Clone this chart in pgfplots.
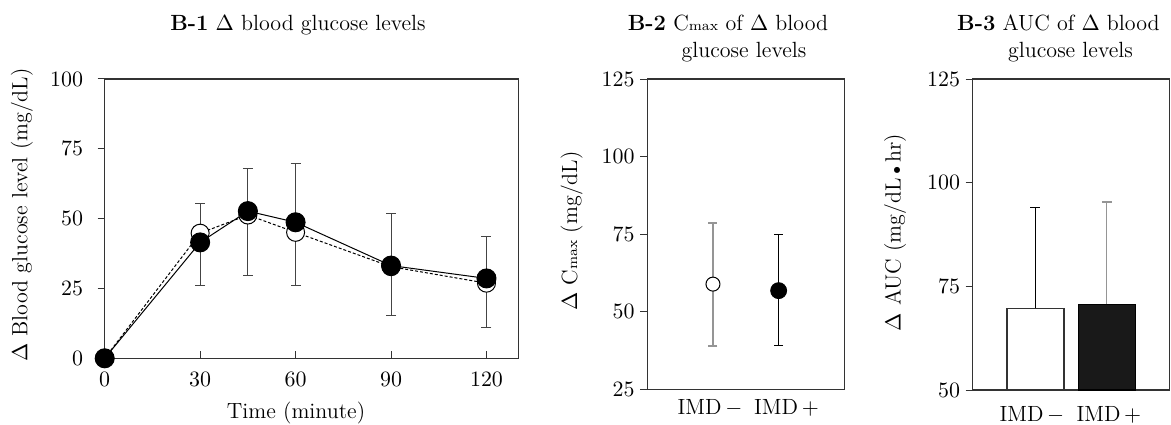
\documentclass[border=0pt]{standalone}
\usepackage{pgfplots}
\pgfplotsset{compat=1.18}
\definecolor{axc}{HTML}{333333}
\definecolor{errc}{HTML}{444444}
\definecolor{gerr}{HTML}{959595}
\newcommand{\fs}{\fontsize{11}{13}\selectfont}
\begin{document}
\fs
\begin{tikzpicture}
\path[use as bounding box] (0pt,0pt) rectangle (585.5pt,212pt);
\pgfplotsset{
  myax/.style={scale only axis, anchor=south west,
    axis line style={draw=axc, line width=0.6pt},
    every tick/.style={draw=axc, line width=0.5pt},
    major tick length=3.5pt,
    tick label style={font=\fs},
    tick pos=left},
}
% ---------- B-1 ----------
\begin{axis}[myax, at={(52.35pt,32.85pt)}, width=206.8pt, height=139.65pt,
  xmin=0, xmax=130, ymin=0, ymax=100, clip=false,
  xtick={0,30,60,90,120}, ytick={0,25,50,75,100},
  xtick align=inside, ytick align=outside,
  xticklabel style={yshift=-3pt}, yticklabel style={xshift=-3.5pt}]
\addplot[draw=none, mark=none, forget plot,
  error bars/.cd, y dir=both, y explicit,
  error bar style={color=errc, line width=0.5pt},
  error mark options={rotate=90, color=errc, line width=0.5pt, mark size=2.5pt}]
  coordinates {
  (30,41.5) += (0,14.0) -= (0,15.4)
  (45,52.7) += (0,15.3) -= (0,23.1)
  (60,48.7) += (0,20.9) -= (0,22.6)
  (90,33.2) += (0,18.5) -= (0,17.8)
  (120,28.6) += (0,15.1) -= (0,17.6)
  };
\addplot[black, line width=0.5pt, dash pattern=on 1.5pt off 1pt,
  mark=*, mark size=4.5pt, mark options={solid, fill=white, draw=black, line width=0.5pt}]
  coordinates {(0,0) (30,44.8) (45,51.3) (60,45.1) (90,32.8) (120,26.9)};
\addplot[black, line width=0.5pt,
  mark=*, mark size=4.75pt, mark options={solid, fill=black, draw=black}]
  coordinates {(0,0) (30,41.5) (45,52.7) (60,48.7) (90,33.2) (120,28.6)};
\end{axis}
% ---------- B-2 ----------
\begin{axis}[myax, at={(323.65pt,17.35pt)}, width=98.5pt, height=155.15pt,
  xmin=0, xmax=3, ymin=25, ymax=125, clip=false,
  ytick={25,50,75,100,125}, xtick={0.955,2.12}, xticklabels={IMD\,$-$, IMD\,$+$},
  ytick align=outside, xtick style={draw=none},
  xticklabel style={yshift=-1pt}, yticklabel style={xshift=1pt}]
\addplot[only marks, mark=*, mark size=3.5pt,
  mark options={fill=white, draw=black, line width=0.5pt},
  error bars/.cd, y dir=both, y explicit,
  error bar style={color=gerr, line width=0.8pt},
  error mark options={rotate=90, color=gerr, line width=0.8pt, mark size=2.25pt}]
  coordinates {(1,58.9) += (0,19.6) -= (0,19.9)};
\addplot[only marks, mark=*, mark size=4pt,
  mark options={fill=black, draw=black},
  error bars/.cd, y dir=both, y explicit,
  error bar style={color=black, line width=0.5pt},
  error mark options={rotate=90, color=black, line width=0.5pt, mark size=2.25pt}]
  coordinates {(2,56.8) += (0,18.2) -= (0,17.8)};
\end{axis}
% ---------- B-3 ----------
\begin{axis}[myax, at={(486.35pt,17pt)}, width=98.4pt, height=155.5pt,
  xmin=0.12, xmax=2.88, ymin=50, ymax=125,
  ytick={50,75,100,125}, xtick={0.95,2.03}, xticklabels={IMD\,$-$, IMD\,$+$},
  ytick align=outside, xtick style={draw=none},
  xticklabel style={yshift=-1pt}, yticklabel style={xshift=1pt},
  ybar, bar width=28.5pt, bar shift=0pt]
\addplot[fill=white, draw=axc, line width=0.6pt,
  error bars/.cd, y dir=plus, y explicit,
  error bar style={color=black, line width=0.5pt},
  error mark options={rotate=90, color=black, line width=0.5pt, mark size=2.5pt}]
  coordinates {(1,69.7) += (0,24.3)};
\addplot[fill=black!90, draw=black, line width=0.6pt,
  error bars/.cd, y dir=plus, y explicit,
  error bar style={color=gerr, line width=0.7pt},
  error mark options={rotate=90, color=gerr, line width=0.7pt, mark size=2.5pt}]
  coordinates {(2,70.7) += (0,24.6)};
\end{axis}
% ---------- titles and labels ----------
\node[anchor=base, font=\fs] at (149pt,196.5pt) {\textbf{B-1} $\Delta$ blood glucose levels};
\node[anchor=base, font=\fs] at (364pt,196.7pt) {\textbf{B-2} C{\fontsize{7}{8}\selectfont max} of $\Delta$ blood};
\node[anchor=base, font=\fs] at (372pt,183.3pt) {glucose levels};
\node[anchor=base, font=\fs] at (529.2pt,196.7pt) {\textbf{B-3} AUC of $\Delta$ blood};
\node[anchor=base, font=\fs] at (535.25pt,183.3pt) {glucose levels};
\node[rotate=90, font=\fs] at (11pt,104.5pt) {$\Delta$ Blood glucose level (mg/dL)};
\node[rotate=90, font=\fs] at (285.85pt,96.5pt) {$\Delta$ C{\fontsize{7}{8}\selectfont max} (mg/dL)};
\node[rotate=90, font=\fs] at (447.5pt,95.75pt) {$\Delta$ AUC (mg/dL\,{\scriptsize$\bullet$}\,hr)};
\node[anchor=base, font=\fs] at (148pt,2.8pt) {Time (minute)};
\end{tikzpicture}
\end{document}
